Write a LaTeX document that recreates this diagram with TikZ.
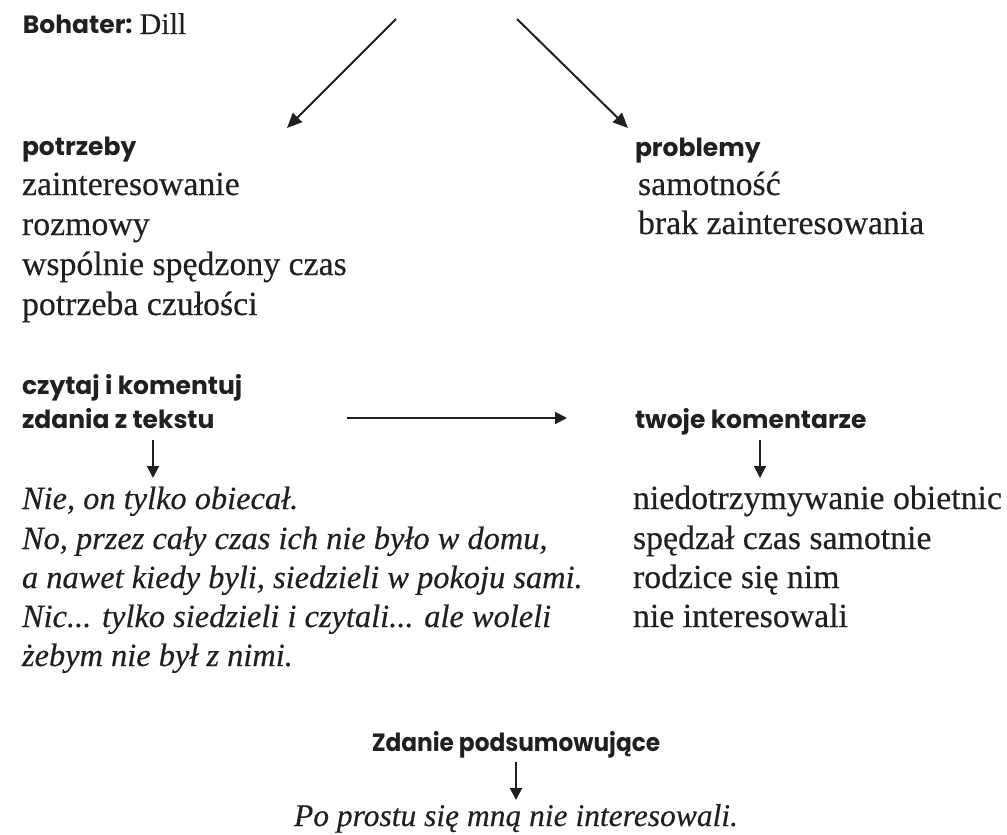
\documentclass[tikz,border=0pt]{standalone}
\usepackage{fontspec}
\setmainfont{Liberation Serif}[FakeBold=0.35]
\newfontfamily\hd{Poppins}
\newfontfamily\hdn{Poppins}[FakeStretch=0.93]
\usetikzlibrary{arrows.meta}
\definecolor{ink}{HTML}{231F20}
\tikzset{
  txt/.style={inner sep=0pt, outer sep=0pt, anchor=base west, text=ink},
  head/.style={txt, font=\hd\bfseries\fontsize{25}{30}\selectfont},
  body/.style={txt, font=\fontsize{33.8}{40}\selectfont},
  quote/.style={txt, font=\itshape\fontsize{32.4}{38}\selectfont},
  arr/.style={draw=ink, line width=2pt, -{Triangle[length=12pt,width=12pt]}},
  bigarr/.style={draw=ink, line width=2pt, -{Triangle[length=15pt,width=13pt]}},
}
\begin{document}
\begin{tikzpicture}[x=1pt,y=-1pt]
\useasboundingbox (0,0) rectangle (1007,835);

% header
\node[head] (bohater) at (23,34) {Bohater: {\rmfamily\mdseries\fontsize{30}{30}\selectfont Dill}};

% needs
\node[head] (potrzeby) at (22,155) {potrzeby};
\node[body] (p1) at (22,195) {zainteresowanie};
\node[body] (p2) at (22,235) {rozmowy};
\node[body] (p3) at (22,275) {wspólnie spędzony czas};
\node[body] (p4) at (22,315) {potrzeba czułości};

% problems
\node[head] (problemy) at (635,156) {problemy};
\node[body] (s1) at (638,195) {samotność};
\node[body] (s2) at (638,234) {brak zainteresowania};

% read and comment
\node[head] (czytaj) at (22,394) {czytaj i komentuj};
\node[head] (zdania) at (22,428) {zdania z tekstu};
\node[head] (twoje) at (635,428) {twoje komentarze};

% quotes
\node[quote] (q1) at (22,509) {Nie, on tylko obiecał.};
\node[quote] (q2) at (22,549) {No, przez cały czas ich nie było w domu,};
\node[quote] (q3) at (22,588) {a nawet kiedy byli, siedzieli w pokoju sami.};
\node[quote] (q4) at (22,627) {Nic... tylko siedzieli i czytali... ale woleli};
\node[quote] (q5) at (22,666) {żebym nie był z nimi.};

% comments
\node[body] (c1) at (633,509) {niedotrzymywanie obietnic};
\node[body] (c2) at (633,549) {spędzał czas samotnie};
\node[body] (c3) at (633,588) {rodzice się nim};
\node[body] (c4) at (633,627) {nie interesowali};

% summary
\node[head, anchor=base, font=\hdn\bfseries\fontsize{25}{30}\selectfont] (zdanie) at (516,751) {Zdanie podsumowujące};
\node[quote, anchor=base, font=\itshape\fontsize{31.5}{36}\selectfont] (po) at (516,826) {Po prostu się mną nie interesowali.};

% arrow end points
\coordinate (a1s) at (396,19);
\coordinate (a1e) at (287,128);
\coordinate (a2s) at (517,19);
\coordinate (a2e) at (628,128);
\coordinate (hs) at (347,418);
\coordinate (he) at (567,418);
\coordinate (d1s) at (153,440);
\coordinate (d1e) at (153,478);
\coordinate (d2s) at (760,440);
\coordinate (d2e) at (760,478);
\coordinate (d3s) at (516,762);
\coordinate (d3e) at (516,800);

\draw[bigarr] (a1s) -- (a1e);
\draw[bigarr] (a2s) -- (a2e);
\draw[arr] (hs) -- (he);
\draw[arr] (d1s) -- (d1e);
\draw[arr] (d2s) -- (d2e);
\draw[arr] (d3s) -- (d3e);
\end{tikzpicture}
\end{document}
